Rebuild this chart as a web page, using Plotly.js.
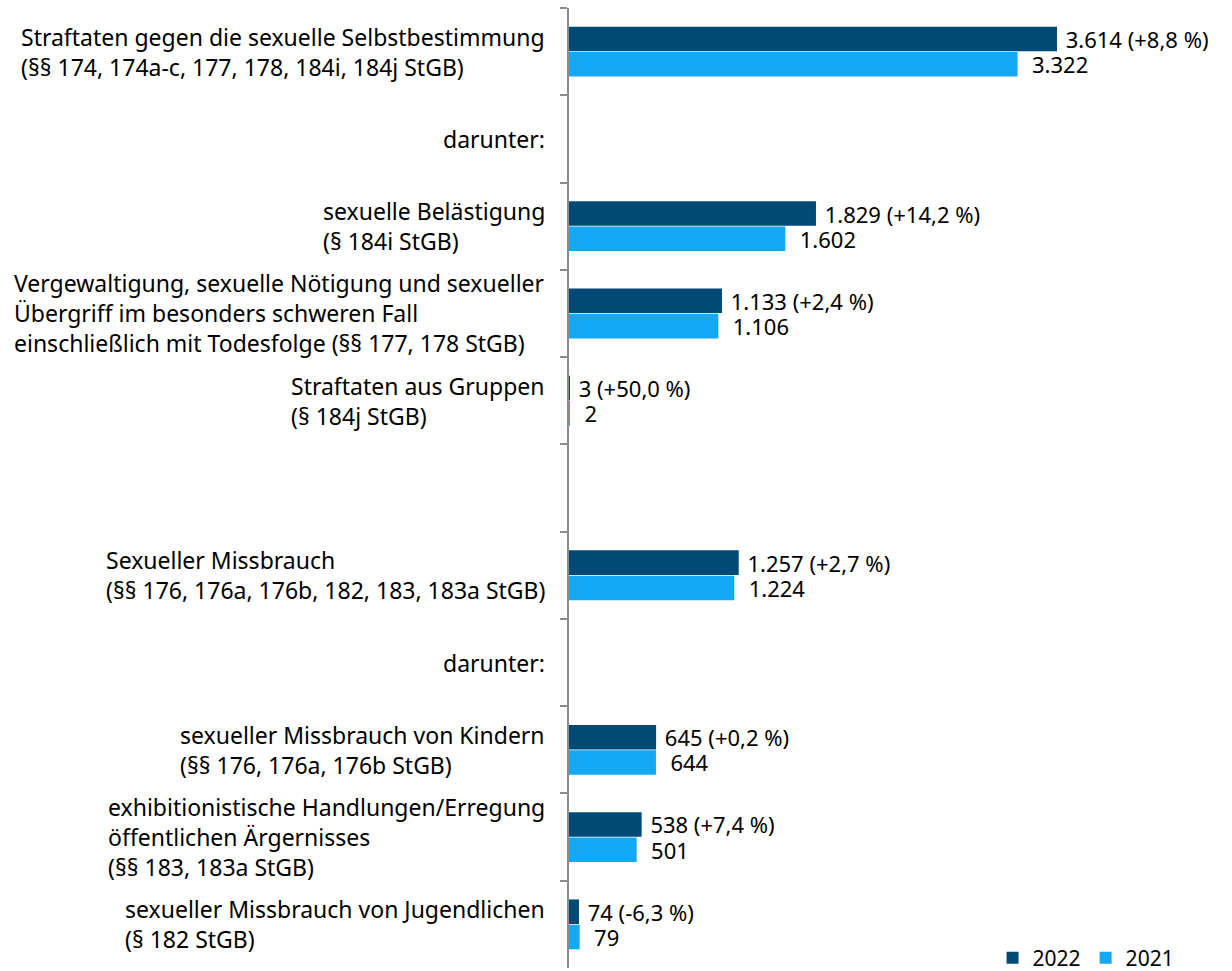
<!DOCTYPE html>
<html>
<head>
<meta charset="utf-8">
<script src="https://cdn.plot.ly/plotly-3.0.1.min.js"></script>
<style>
  body { margin: 0; background: #fff; }
  #chart { width: 1232px; height: 971px; }
</style>
</head>
<body>
<div id="chart"></div>
<script>
// Kategorien (von oben nach unten)
const categories = [
    'Straftaten gegen die sexuelle Selbstbestimmung<br>(§§ 174, 174a-c, 177, 178, 184i, 184j StGB)',
    'darunter:',
    'sexuelle Belästigung<br>(§ 184i StGB)',
    'Vergewaltigung, sexuelle Nötigung und sexueller<br>Übergriff im besonders schweren Fall<br>einschließlich mit Todesfolge (§§ 177, 178 StGB)',
    'Straftaten aus Gruppen<br>(§ 184j StGB)',
    '',
    'Sexueller Missbrauch<br>(§§ 176, 176a, 176b, 182, 183, 183a StGB)',
    'darunter:',
    'sexueller Missbrauch von Kindern<br>(§§ 176, 176a, 176b StGB)',
    'exhibitionistische Handlungen/Erregung<br>öffentlichen Ärgernisses<br>(§§ 183, 183a StGB)',
    'sexueller Missbrauch von Jugendlichen<br>(§ 182 StGB)'
];
const values2022 = [3614, null, 1829, 1133, 3, null, 1257, null, 645, 538, 74];
const values2021 = [3322, null, 1602, 1106, 2, null, 1224, null, 644, 501, 79];
const change2022 = ['+8,8 %', '', '+14,2 %', '+2,4 %', '+50,0 %', '', '+2,7 %', '', '+0,2 %', '+7,4 %', '-6,3 %'];

const positions = categories.map((c, i) => i);

function fmt(v) {
    return String(v).replace(/\B(?=(\d{3})+(?!\d))/g, '.');
}

const pad = '\u00a0';
const text2022 = values2022.map((v, i) => v == null ? '' : pad + fmt(v) + ' (' + change2022[i] + ')');
const text2021 = values2021.map(v => v == null ? '' : pad + '\u00a0' + fmt(v));

const fontFam = '"Noto Sans", "Open Sans", sans-serif';
const fs = 23;
const fsVal = 22;

const trace1 = {
    type: 'bar',
    orientation: 'h',
    name: '2022',
    y: positions,
    x: values2022,
    text: text2022,
    textposition: 'outside',
    constraintext: 'none',
    cliponaxis: false,
    textfont: { family: fontFam, size: fsVal, color: '#000' },
    marker: { color: '#004b76' },
    hoverinfo: 'x'
};

const trace2 = {
    type: 'bar',
    orientation: 'h',
    name: '2021',
    y: positions,
    x: values2021,
    text: text2021,
    textposition: 'outside',
    constraintext: 'none',
    cliponaxis: false,
    textfont: { family: fontFam, size: fsVal, color: '#000' },
    marker: { color: '#14a8f5' },
    hoverinfo: 'x'
};

const annotations = categories.map((c, i) => ({
    xref: 'paper',
    yref: 'y',
    x: 0,
    y: i,
    xanchor: 'right',
    yanchor: 'middle',
    xshift: -22,
    align: 'left',
    showarrow: false,
    text: c,
    font: { family: fontFam, size: fs, color: '#000' }
}));

const layout = {
    width: 1232,
    height: 971,
    margin: { l: 569, r: 10, t: 8, b: 3, autoexpand: false },
    barmode: 'group',
    bargap: 0.42,
    bargroupgap: 0.03,
    paper_bgcolor: '#fff',
    plot_bgcolor: '#fff',
    font: { family: fontFam, size: fs, color: '#000' },
    showlegend: true,
    legend: {
        orientation: 'h',
        x: 0.935,
        xanchor: 'right',
        yref: 'container',
        y: 0.0134,
        yanchor: 'middle',
        bgcolor: 'rgba(0,0,0,0)',
        font: { family: fontFam, size: 21, color: '#000' },
        traceorder: 'normal',
        itemwidth: 30,
        tracegroupgap: 0
    },
    xaxis: {
        range: [0, 4836],
        showgrid: false,
        zeroline: false,
        showticklabels: false,
        showline: false,
        ticks: ''
    },
    yaxis: {
        type: 'category',
        range: [10.5, -0.5],
        showticklabels: false,
        showgrid: false,
        zeroline: false,
        showline: true,
        linecolor: '#8c8c8c',
        linewidth: 2,
        ticks: 'outside',
        tickson: 'boundaries',
        ticklen: 7,
        tickcolor: '#8c8c8c',
        tickwidth: 1.5
    },
    annotations: annotations
};

Plotly.newPlot('chart', [trace1, trace2], layout, { displayModeBar: false });
</script>
</body>
</html>
